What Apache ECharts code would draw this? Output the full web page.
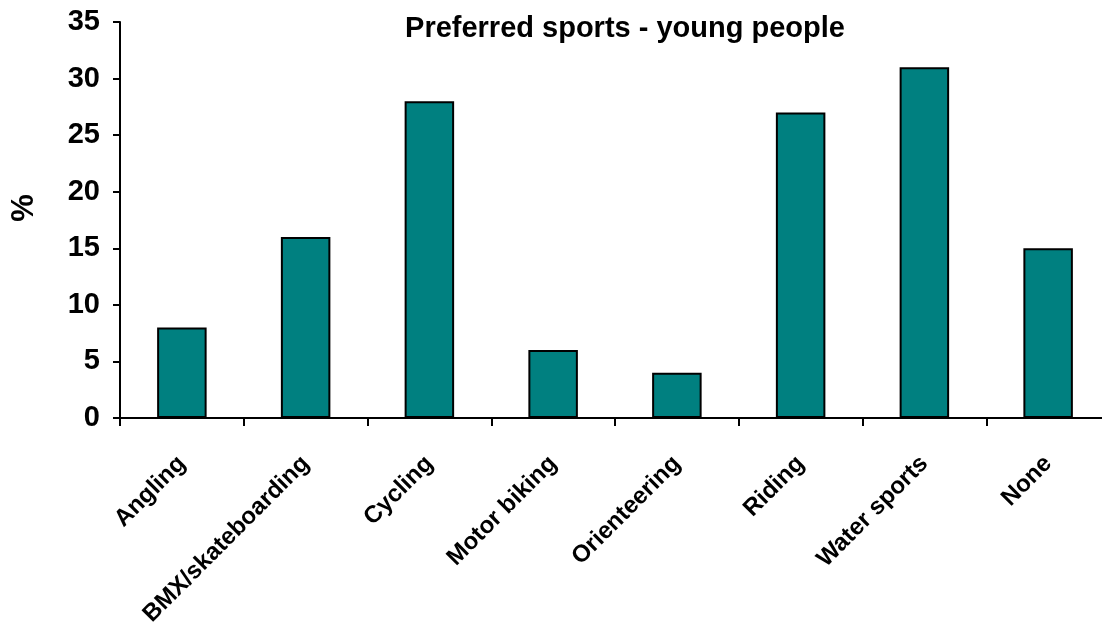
<!DOCTYPE html>
<html>
<head>
<meta charset="utf-8">
<script src="https://cdn.jsdelivr.net/npm/echarts@6/dist/echarts.min.js"></script>
<style>html,body{margin:0;padding:0;background:#fff;overflow:hidden}#c{width:1102px;height:644px}</style>
</head>
<body>
<div id="c"></div>
<script>
const categories = ["Angling", "BMX/skateboarding", "Cycling", "Motor biking", "Orienteering", "Riding", "Water sports", "None"];
const values = [8, 16, 28, 6, 4, 27, 31, 15];
const titleText = "Preferred sports - young people";
const yName = "%";

const chart = echarts.init(document.getElementById('c'), null, {renderer: 'canvas'});
const FONT = '"Liberation Sans", Arial, sans-serif';
chart.setOption({
  animation: false,
  backgroundColor: '#fff',
  title: {
    text: titleText,
    left: 620, top: 9, textAlign: 'center',
    textStyle: {fontFamily: FONT, fontWeight: 'bold', fontSize: 29, color: '#000'}
  },
  grid: {left: 120, width: 990, top: 22, height: 396, containLabel: false, outerBoundsMode: 'none'},
  xAxis: {
    type: 'category',
    data: categories,
    axisLine: {lineStyle: {color: '#000', width: 2}},
    axisTick: {show: true, length: 8, lineStyle: {color: '#000', width: 2}},
    axisLabel: {
      rotate: 45, margin: 42, interval: 0,
      fontFamily: FONT, fontWeight: 'bold', fontSize: 24, color: '#000'
    }
  },
  yAxis: {
    type: 'value', min: 0, max: 35, interval: 5,
    name: yName, nameLocation: 'middle', nameRotate: 90, nameGap: 80,
    nameTextStyle: {fontFamily: FONT, fontWeight: 'bold', fontSize: 31, color: '#000', padding: [0, 0, 0, 24]},
    splitLine: {show: false},
    axisLine: {show: true, lineStyle: {color: '#000', width: 2}},
    axisTick: {show: true, length: 7, lineStyle: {color: '#000', width: 2}},
    axisLabel: {margin: 20, fontFamily: FONT, fontWeight: 'bold', fontSize: 29, color: '#000'}
  },
  series: [{
    type: 'bar',
    data: values,
    barWidth: '40%',
    itemStyle: {color: '#008080', borderColor: '#000', borderWidth: 2}
  }]
});
</script>
</body>
</html>
